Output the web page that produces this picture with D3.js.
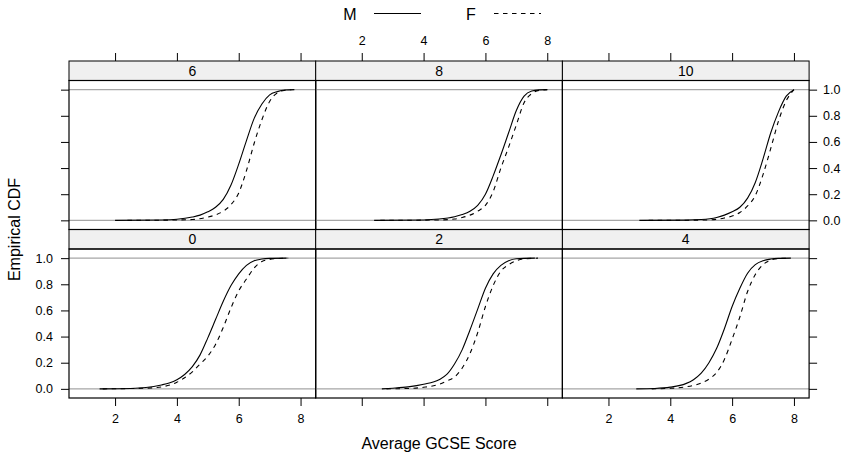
<!DOCTYPE html>
<html>
<head>
<meta charset="utf-8">
<script src="https://cdn.jsdelivr.net/npm/d3@7"></script>
<style>
  html, body { margin: 0; padding: 0; background: #fff; }
  svg { display: block; font-family: "Liberation Sans", Arial, Helvetica, sans-serif; }
</style>
</head>
<body>
<svg id="chart" width="846" height="457"></svg>
<script>
// Panel conditioning levels (A-level chemistry score), drawn bottom row first
const panelLevels = ["0", "2", "4", "6", "8", "10"];
const genders = ["M", "F"];

// Axis ticks
const xTicks = [2, 4, 6, 8];
const yTicks = [0, 0.2, 0.4, 0.6, 0.8, 1.0];
const yTickLabels = ["0.0", "0.2", "0.4", "0.6", "0.8", "1.0"];

// Empirical CDF of average GCSE score: [score, cumulative proportion]
const cdf0M = [[1.5,0],[2.5,0.003],[3.0,0.01],[3.5,0.03],[3.75,0.045],[4.0,0.07],[4.25,0.11],[4.5,0.17],[4.75,0.26],[5.0,0.39],[5.25,0.53],[5.5,0.67],[5.75,0.79],[6.0,0.88],[6.25,0.945],[6.5,0.98],[6.75,0.993],[7.0,0.998],[7.55,1]];
const cdf0F = [[1.6,0],[3.0,0.005],[3.5,0.015],[4.0,0.05],[4.25,0.085],[4.5,0.13],[4.75,0.19],[5.0,0.25],[5.25,0.34],[5.5,0.47],[5.75,0.62],[6.0,0.75],[6.25,0.84],[6.5,0.925],[6.75,0.975],[7.0,0.99],[7.25,0.997],[7.6,1]];
const cdf2M = [[2.65,0],[3.0,0.005],[3.5,0.015],[4.0,0.035],[4.5,0.07],[4.75,0.11],[5.0,0.19],[5.25,0.3],[5.5,0.45],[5.75,0.61],[6.0,0.77],[6.25,0.88],[6.5,0.945],[6.75,0.98],[7.0,0.995],[7.6,1]];
const cdf2F = [[2.8,0],[3.5,0.003],[4.0,0.012],[4.5,0.035],[4.75,0.06],[5.0,0.09],[5.25,0.16],[5.5,0.27],[5.75,0.43],[6.0,0.63],[6.25,0.79],[6.5,0.9],[6.75,0.95],[7.0,0.98],[7.25,0.995],[7.7,1]];
const cdf4M = [[2.9,0],[3.5,0.003],[4.0,0.013],[4.5,0.04],[4.75,0.07],[5.0,0.12],[5.25,0.2],[5.5,0.31],[5.75,0.46],[6.0,0.63],[6.25,0.77],[6.5,0.885],[6.75,0.95],[7.0,0.98],[7.25,0.993],[7.5,0.998],[7.9,1]];
const cdf4F = [[3.4,0],[4.0,0.004],[4.5,0.015],[5.0,0.045],[5.25,0.075],[5.5,0.125],[5.75,0.225],[6.0,0.38],[6.25,0.55],[6.5,0.745],[6.75,0.875],[7.0,0.95],[7.25,0.985],[7.5,0.997],[7.8,1]];
const cdf6M = [[2.0,0],[3.5,0.003],[4.0,0.008],[4.5,0.025],[4.75,0.04],[5.0,0.065],[5.25,0.1],[5.5,0.16],[5.75,0.27],[6.0,0.43],[6.25,0.61],[6.5,0.78],[6.75,0.89],[7.0,0.96],[7.25,0.985],[7.5,0.997],[7.8,1]];
const cdf6F = [[2.4,0],[4.0,0.003],[4.5,0.006],[5.0,0.025],[5.25,0.042],[5.5,0.07],[5.75,0.12],[6.0,0.21],[6.25,0.38],[6.5,0.59],[6.75,0.77],[7.0,0.91],[7.25,0.975],[7.5,0.995],[7.7,1]];
const cdf8M = [[2.4,0],[4.0,0.003],[4.5,0.01],[5.0,0.028],[5.25,0.045],[5.5,0.07],[5.75,0.115],[6.0,0.2],[6.25,0.34],[6.5,0.5],[6.75,0.67],[7.0,0.84],[7.25,0.95],[7.5,0.99],[7.75,0.998],[8.0,1]];
const cdf8F = [[2.6,0],[4.5,0.003],[5.0,0.01],[5.25,0.022],[5.5,0.04],[5.75,0.07],[6.0,0.115],[6.25,0.22],[6.5,0.40],[6.75,0.56],[7.0,0.73],[7.25,0.9],[7.5,0.97],[7.75,0.995],[8.0,1]];
const cdf10M = [[3.0,0],[4.5,0.002],[5.0,0.006],[5.5,0.022],[5.75,0.04],[6.0,0.065],[6.25,0.1],[6.5,0.17],[6.75,0.29],[7.0,0.47],[7.25,0.67],[7.5,0.83],[7.75,0.95],[8.0,1]];
const cdf10F = [[3.3,0],[5.0,0.002],[5.5,0.008],[5.75,0.018],[6.0,0.033],[6.25,0.06],[6.5,0.11],[6.75,0.19],[7.0,0.35],[7.25,0.55],[7.5,0.76],[7.75,0.915],[8.0,1]];

const curves = {
  "0": { M: cdf0M, F: cdf0F },
  "2": { M: cdf2M, F: cdf2F },
  "4": { M: cdf4M, F: cdf4F },
  "6": { M: cdf6M, F: cdf6F },
  "8": { M: cdf8M, F: cdf8F },
  "10": { M: cdf10M, F: cdf10F }
};

// Layout
const svg = d3.select("#chart");
const gridLeft = 69, colW = 246.7, gridTop = 61, stripH = 19.5, panelH = 149;
const nCols = 3, nRows = 2;
const rowH = stripH + panelH;
const tickLen = 8;
const fontFamily = '"Liberation Sans", Arial, Helvetica, sans-serif';
const dash = { M: null, F: "4.5,4.5" };

function panelBox(i) {
  const col = i % nCols;
  const rowFromBottom = Math.floor(i / nCols);
  const row = nRows - 1 - rowFromBottom; // 0 = top row
  const x0 = gridLeft + col * colW;
  const stripTop = gridTop + row * rowH;
  return { col, row, x0, x1: x0 + colW, stripTop, y0: stripTop + stripH, y1: stripTop + rowH };
}

const lineGen = d3.line().curve(d3.curveMonotoneX);

panelLevels.forEach((lev, i) => {
  const b = panelBox(i);
  const x = d3.scaleLinear().domain([0.51, 8.49]).range([b.x0, b.x1]);
  const y = d3.scaleLinear().domain([-0.07, 1.07]).range([b.y1, b.y0]);
  const g = svg.append("g");

  // strip
  g.append("rect").attr("x", b.x0).attr("y", b.stripTop).attr("width", colW).attr("height", stripH)
    .attr("fill", "#f0f0f0").attr("stroke", "#000").attr("stroke-width", 1);
  g.append("text").attr("x", (b.x0 + b.x1) / 2).attr("y", b.stripTop + stripH / 2 + 5)
    .attr("text-anchor", "middle").attr("font-size", 14).attr("fill", "#000").text(lev);

  // reference lines at 0 and 1
  [0, 1].forEach(v => {
    g.append("line").attr("x1", b.x0).attr("x2", b.x1).attr("y1", y(v)).attr("y2", y(v))
      .attr("stroke", "#a6a6a6").attr("stroke-width", 1.2);
  });

  // ECDF curves
  genders.forEach(gd => {
    lineGen.x(d => x(d[0])).y(d => y(d[1]));
    g.append("path").attr("d", lineGen(curves[lev][gd]))
      .attr("fill", "none").attr("stroke", "#000").attr("stroke-width", 1.1)
      .attr("stroke-dasharray", dash[gd]);
  });

  // panel border
  g.append("rect").attr("x", b.x0).attr("y", b.y0).attr("width", colW).attr("height", panelH)
    .attr("fill", "none").attr("stroke", "#000").attr("stroke-width", 1.2);

  // x axis: bottom row ticks below, top row ticks above the strip
  if (b.row === nRows - 1) {
    const ax = g.append("g").attr("transform", `translate(0,${b.y1})`)
      .call(d3.axisBottom(x).tickValues(xTicks).tickSize(tickLen).tickSizeOuter(0)
        .tickFormat(b.col % 2 === 0 ? d3.format("d") : () => ""));
    ax.select(".domain").remove();
    ax.selectAll("text").attr("font-size", 12.5).attr("font-family", fontFamily).attr("dy", "1.1em").attr("fill", "#000");
  }
  if (b.row === 0) {
    const ax = g.append("g").attr("transform", `translate(0,${b.stripTop})`)
      .call(d3.axisTop(x).tickValues(xTicks).tickSize(tickLen).tickSizeOuter(0)
        .tickFormat(b.col % 2 === 1 ? d3.format("d") : () => ""));
    ax.select(".domain").remove();
    ax.selectAll("text").attr("font-size", 12.5).attr("font-family", fontFamily).attr("fill", "#000")
      .attr("y", -(tickLen + 8));
  }
  // y axis: left column and right column
  if (b.col === 0) {
    const ay = g.append("g").attr("transform", `translate(${b.x0},0)`)
      .call(d3.axisLeft(y).tickValues(yTicks).tickSize(tickLen).tickSizeOuter(0)
        .tickFormat((d, k) => b.row === nRows - 1 ? yTickLabels[k] : ""));
    ay.select(".domain").remove();
    ay.selectAll("text").attr("font-size", 12.5).attr("font-family", fontFamily).attr("fill", "#000").attr("x", -16);
  }
  if (b.col === nCols - 1) {
    const ay = g.append("g").attr("transform", `translate(${b.x1},0)`)
      .call(d3.axisRight(y).tickValues(yTicks).tickSize(tickLen).tickSizeOuter(0)
        .tickFormat((d, k) => b.row === 0 ? yTickLabels[k] : ""));
    ay.select(".domain").remove();
    ay.selectAll("text").attr("font-size", 12.5).attr("font-family", fontFamily).attr("fill", "#000").attr("x", 14);
  }
});

// Axis titles
const cx = gridLeft + nCols * colW / 2;
svg.append("text").attr("x", cx).attr("y", 449).attr("text-anchor", "middle")
  .attr("font-size", 16).attr("fill", "#000").text("Average GCSE Score");
const cy = gridTop + nRows * rowH / 2;
svg.append("text").attr("transform", `translate(20,${cy}) rotate(-90)`).attr("text-anchor", "middle")
  .attr("font-size", 16).attr("fill", "#000").text("Empirical CDF");

// Legend
const legend = svg.append("g");
const legendItems = [
  { key: "M", tx: 350, x1: 374, x2: 421 },
  { key: "F", tx: 471, x1: 494, x2: 541 }
];
legendItems.forEach(it => {
  legend.append("text").attr("x", it.tx).attr("y", 19.5).attr("text-anchor", "middle")
    .attr("font-size", 16).attr("fill", "#000").text(it.key);
  legend.append("line").attr("x1", it.x1).attr("x2", it.x2).attr("y1", 13.5).attr("y2", 13.5)
    .attr("stroke", "#000").attr("stroke-width", 1).attr("stroke-dasharray", dash[it.key]);
});
</script>
</body>
</html>
